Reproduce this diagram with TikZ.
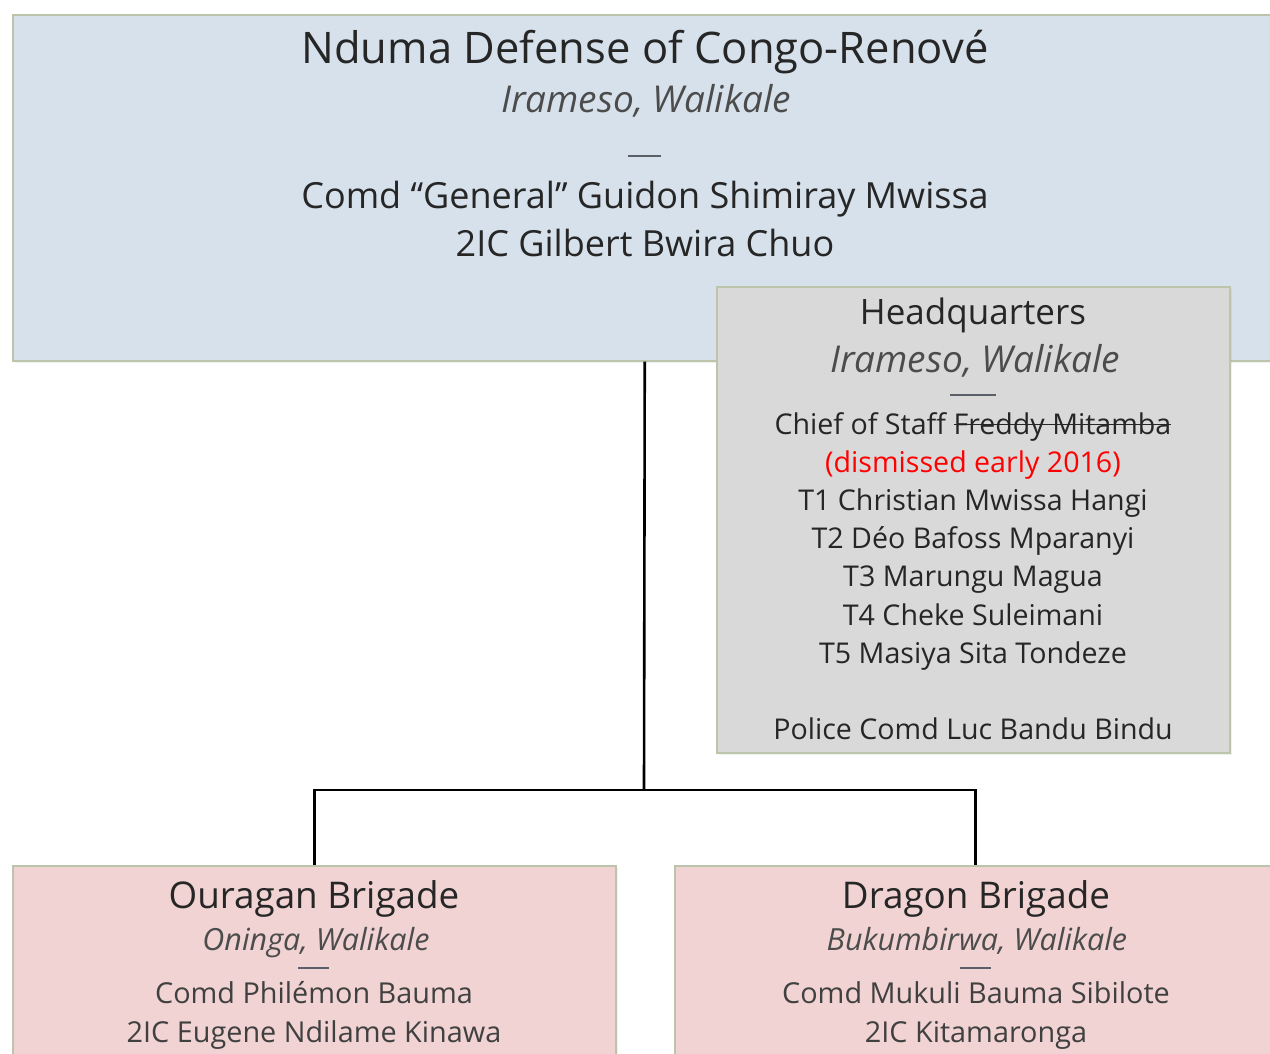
\documentclass[tikz,border=0pt]{standalone}
\usepackage{fontspec}
\setmainfont{Open Sans}
\usetikzlibrary{shadows}
\definecolor{ndcblue}{HTML}{D7E1EB}
\definecolor{hqgray}{HTML}{D9D9D9}
\definecolor{brigpink}{HTML}{F0D3D2}
\definecolor{boxline}{HTML}{BCC4AC}
\definecolor{rulegray}{HTML}{5A6068}
\definecolor{dismiss}{HTML}{FF0000}
\newcommand\crossout[1]{\setbox0\hbox{#1}\rlap{\rule[0.3em]{\wd0}{1.4pt}}\box0}

\tikzset{
  box/.style={draw=boxline, line width=1.5pt, anchor=north west, inner sep=0pt,
    drop shadow={opacity=0.12, shadow xshift=2pt, shadow yshift=-2pt}},
  txt/.style={anchor=base, inner sep=0pt, text=black!85},
  big/.style={txt, font=\fontsize{43.5}{44}\selectfont},
  mid/.style={txt, font=\fontsize{36}{36}\selectfont},
  loc/.style={txt, font=\fontsize{37}{37}\selectfont\itshape, text=black!70},
  small/.style={txt, font=\fontsize{28.6}{29}\selectfont},
  tiny/.style={txt, font=\fontsize{28.8}{29}\selectfont, text=black!75},
  rule/.style={draw=rulegray, line width=1.6pt},
  link/.style={draw=black, line width=2.6pt}
}

\begin{document}
\begin{tikzpicture}[x=1pt, y=-1pt]
  \useasboundingbox (0,0) rectangle (1270,1053);
  \clip (0,0) rectangle (1270,1053);

  % boxes
  \node[box, fill=ndcblue, minimum width=1264pt, minimum height=346pt] (ndc) at (12,14) {};
  \node[box, fill=hqgray, minimum width=513pt, minimum height=466pt] (hq) at (716,286) {};
  \node[box, fill=brigpink, minimum width=603pt, minimum height=250pt] (ourag) at (12,865) {};
  \node[box, fill=brigpink, minimum width=602pt, minimum height=250pt] (drag) at (674,865) {};

  % group
  \node[big] (ndcname) at (645,63) {Nduma Defense of Congo-Renové};
  \node[loc] (ndcloc) at (646,112) {Irameso, Walikale};
  \draw[rule] (628,156) -- (661,156);
  \node[mid] (ndccomd) at (645,208) {Comd “General” Guidon Shimiray Mwissa};
  \node[mid] (ndc2ic) at (645,256) {2IC Gilbert Bwira Chuo};

  % headquarters
  \node[mid, font=\fontsize{35}{35}\selectfont] (hqname) at (973,324) {Headquarters};
  \node[loc] (hqloc) at (975,372) {Irameso, Walikale};
  \draw[rule] (950,395) -- (996,395);
  \node[small] (hqcos) at (973,434) {Chief of Staff \crossout{Freddy Mitamba}};
  \node[small, text=dismiss] (hqnote) at (973,472) {(dismissed early 2016)};
  \node[small] (hqt1) at (973,510) {T1 Christian Mwissa Hangi};
  \node[small] (hqt2) at (973,548) {T2 Déo Bafoss Mparanyi};
  \node[small] (hqt3) at (973,586) {T3 Marungu Magua};
  \node[small] (hqt4) at (973,625) {T4 Cheke Suleimani};
  \node[small] (hqt5) at (973,663) {T5 Masiya Sita Tondeze};
  \node[small] (hqpol) at (973,739) {Police Comd Luc Bandu Bindu};

  % brigades
  \node[mid, font=\fontsize{36.8}{37}\selectfont] (ouragname) at (314,908) {Ouragan Brigade};
  \node[loc, font=\fontsize{30.5}{31}\selectfont\itshape] (ouragloc) at (316,950) {Oninga, Walikale};
  \draw[rule] (298,968) -- (329,968);
  \node[tiny] (ouragcomd) at (314,1003) {Comd Philémon Bauma};
  \node[tiny] (ourag2ic) at (314,1042) {2IC Eugene Ndilame Kinawa};

  \node[mid, font=\fontsize{36.8}{37}\selectfont] (dragname) at (976,908) {Dragon Brigade};
  \node[loc, font=\fontsize{30.5}{31}\selectfont\itshape] (dragloc) at (977,950) {Bukumbirwa, Walikale};
  \draw[rule] (960,968) -- (991,968);
  \node[tiny] (dragcomd) at (976,1003) {Comd Mukuli Bauma Sibilote};
  \node[tiny] (drag2ic) at (976,1042) {2IC Kitamaronga};

  % links
  \coordinate (hub) at (644,790);
  \draw[link] (ndc.south) -- (hub);
  \draw[link] (ourag.north) |- (hub) -| (drag.north);
\end{tikzpicture}
\end{document}
